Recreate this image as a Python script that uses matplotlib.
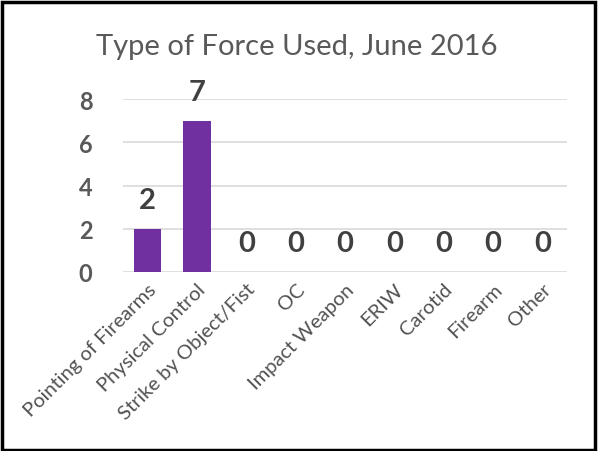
import matplotlib
matplotlib.use("Agg")
import matplotlib.pyplot as plt
from matplotlib.patches import Rectangle

categories = ["Pointing of Firearms", "Physical Control", "Strike by Object/Fist", "OC",
              "Impact Weapon", "ERIW", "Carotid", "Firearm", "Other"]
values = [2, 7, 0, 0, 0, 0, 0, 0, 0]
yticks = [0, 2, 4, 6, 8]
title = "Type of Force Used, June 2016"

FONT = ["Lato", "DejaVu Sans"]
plt.rcParams['font.family'] = FONT

fig = plt.figure(figsize=(5.98, 4.52), dpi=100)
ax = fig.add_axes([123/598, 1-273/452, 444/598, 173/452])

x = list(range(len(categories)))
ax.bar(x, values, width=0.56, color="#7030A0", zorder=3)
ax.set_xlim(-0.5, len(categories) - 0.5)
ax.set_ylim(0, 8)
ax.set_yticks(yticks)
ax.set_yticklabels([str(t) for t in yticks], fontsize=17, fontweight="bold", color="#595959")
ax.tick_params(axis="y", length=0, pad=22)
ax.set_xticks(x)
ax.set_xticklabels(categories, rotation=45, ha="right", rotation_mode="anchor",
                   fontsize=14.5, color="#525252")
ax.tick_params(axis="x", length=0, pad=6)
for s in ax.spines.values():
    s.set_visible(False)
ax.yaxis.grid(True, color="#D9D9D9", linewidth=1.2, zorder=0)
ax.set_axisbelow(True)

for xi, v in zip(x, values):
    ax.annotate(str(v), (xi, v), xytext=(0, 11.5), textcoords="offset points",
                ha="center", va="bottom", fontsize=21, fontweight="bold",
                color="#404040", clip_on=False)

fig.text(297/598, 1-47/452, title, ha="center", va="center", fontsize=21,
         color="#595959")

fig.patches.append(Rectangle((1.5/598, 1.5/452), 593/598, 448/452, transform=fig.transFigure,
                             fill=False, edgecolor="black", linewidth=2.5))

fig.savefig("out.png", dpi=100)
